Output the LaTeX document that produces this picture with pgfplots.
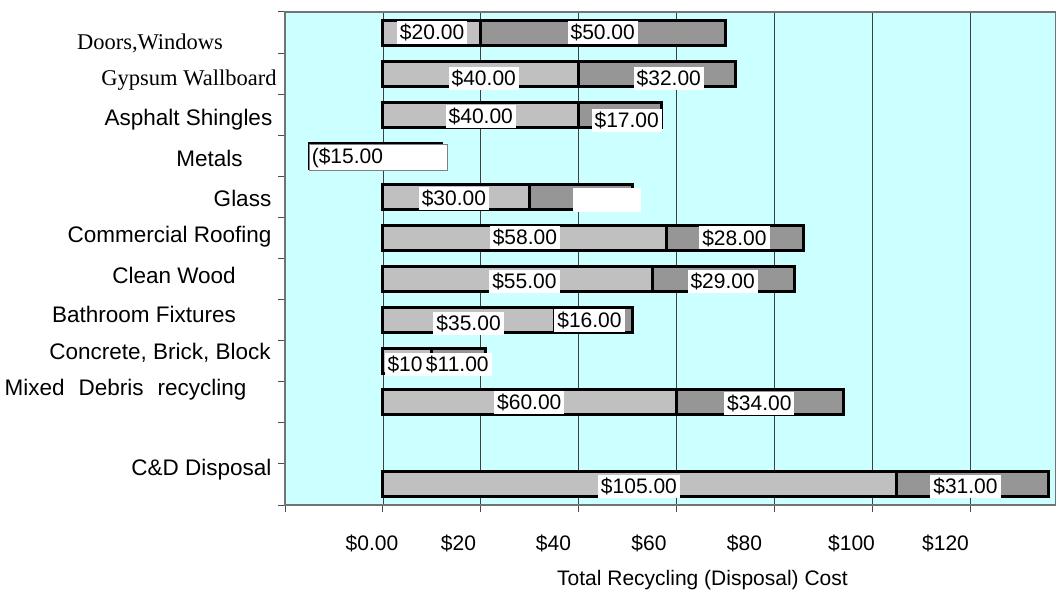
\documentclass[border=0pt]{standalone}
\usepackage{pgfplots}
\pgfplotsset{compat=1.18}
\usepackage{pgfplotstable}
\usepackage{fontspec}
\setmainfont{Liberation Sans}
\newfontfamily\timesfont{Liberation Serif}
\definecolor{chartbg}{HTML}{CCFFFF}
\definecolor{recycle}{HTML}{C0C0C0}
\definecolor{dispose}{HTML}{969696}

% pos: 11 = top row, 1 = empty slot
\pgfplotstableread{
pos rec extra
11  20  50
10  40  32
9   40  17
8  -15  12
7   30  21
6   58  28
5   55  29
4   35  16
3   10  11
2   60  34
0  105  31
}\costs

\begin{document}
\begin{tikzpicture}[
  lab/.style={fill=white, inner xsep=3pt, inner ysep=0pt, minimum height=23pt,
    font=\fontsize{21}{23}\selectfont},
  cat/.style={inner sep=0pt, font=\fontsize{22.5}{25}\selectfont},
  tck/.style={inner sep=0pt, font=\fontsize{21}{24}\selectfont}]
\path[use as bounding box] (0pt,0pt) rectangle (1056pt,592pt);
\begin{axis}[
    at={(285pt,87pt)}, anchor=south west,
    scale only axis, width=771pt, height=493pt,
    xmin=-20, xmax=137.5, ymin=-0.5, ymax=11.5,
    axis background/.style={fill=chartbg},
    axis line style={draw=black!55, line width=1.5pt},
    xtick={-20,0,20,...,120}, xticklabels={},
    ytick={-0.5,0.5,...,11.5}, yticklabels={},
    tick pos=left, tick align=outside, major tick length=7pt,
    tick style={black!70, line width=1pt},
    xmajorgrids, grid style={black!75, line width=0.8pt},
]
\addplot[xbar, bar shift=0pt, bar width=25pt, fill=dispose, draw=black, line width=3pt]
    table[y=pos, x expr={max(\thisrow{rec},0)+\thisrow{extra}}] {\costs};
\addplot[xbar, bar shift=0pt, bar width=25pt, fill=recycle, draw=black, line width=3pt]
    table[y=pos, x=rec] {\costs};

% value labels
\node[lab] at (axis cs:10.05,11.0) {\$20.00};
\node[lab] at (axis cs:44.9,11.0) {\$50.00};
\node[lab] at (axis cs:20.6,9.89) {\$40.00};
\node[lab] at (axis cs:58.4,9.89) {\$32.00};
\node[lab] at (axis cs:20.0,8.96) {\$40.00};
\node[lab] at (axis cs:49.8,8.85) {\$17.00};
\node[lab, anchor=west, minimum width=138pt, minimum height=26pt, text width=132pt,
      align=left, draw=black!50, line width=0.6pt] at (axis cs:-15.2,7.96) {(\$15.00};
\node[lab] at (axis cs:14.5,6.95) {\$30.00};
\node[lab, minimum width=68pt, minimum height=24pt] at (axis cs:45.7,6.92) {};
\node[lab] at (axis cs:29.0,6.01) {\$58.00};
\node[lab] at (axis cs:71.8,6.0) {\$28.00};
\node[lab] at (axis cs:28.9,4.95) {\$55.00};
\node[lab] at (axis cs:69.4,4.95) {\$29.00};
\node[lab] at (axis cs:17.5,3.93) {\$35.00};
\node[lab] at (axis cs:42.2,3.98) {\$16.00};
\node[lab] at (axis cs:7.5,2.93) {\$10.00};
\node[lab] at (axis cs:15.2,2.93) {\$11.00};
\node[lab] at (axis cs:29.9,2.0) {\$60.00};
\node[lab] at (axis cs:76.9,1.98) {\$34.00};
\node[lab] at (axis cs:52.3,-0.06) {\$105.00};
\node[lab] at (axis cs:119.0,-0.06) {\$31.00};
\end{axis}

% category names
\node[cat] at (150pt,549pt) {\timesfont Doors,Windows};
\node[cat] at (189pt,512pt) {\timesfont Gypsum Wallboard};
\node[cat] at (188.5pt,472pt) {Asphalt Shingles};
\node[cat] at (209.5pt,434pt) {Metals};
\node[cat] at (242.5pt,394pt) {Glass};
\node[cat] at (169.5pt,355pt) {Commercial Roofing};
\node[cat] at (174pt,317pt) {Clean Wood};
\node[cat] at (144pt,278pt) {Bathroom Fixtures};
\node[cat] at (160pt,239pt) {Concrete, Brick, Block};
\node[cat] at (125.5pt,202pt) {Mixed\hspace{14pt}Debris\hspace{14pt}recycling};
\node[cat] at (201.5pt,122pt) {C\&D Disposal};

% x tick labels and title
\node[tck] at (372pt,49pt) {\$0.00};
\node[tck] at (458.5pt,49pt) {\$20};
\node[tck] at (553.5pt,49pt) {\$40};
\node[tck] at (649pt,49pt) {\$60};
\node[tck] at (744.5pt,49pt) {\$80};
\node[tck] at (851.5pt,49pt) {\$100};
\node[tck] at (945.5pt,49pt) {\$120};
\node[tck] at (702.5pt,12pt) {Total Recycling (Disposal) Cost};
\end{tikzpicture}
\end{document}
